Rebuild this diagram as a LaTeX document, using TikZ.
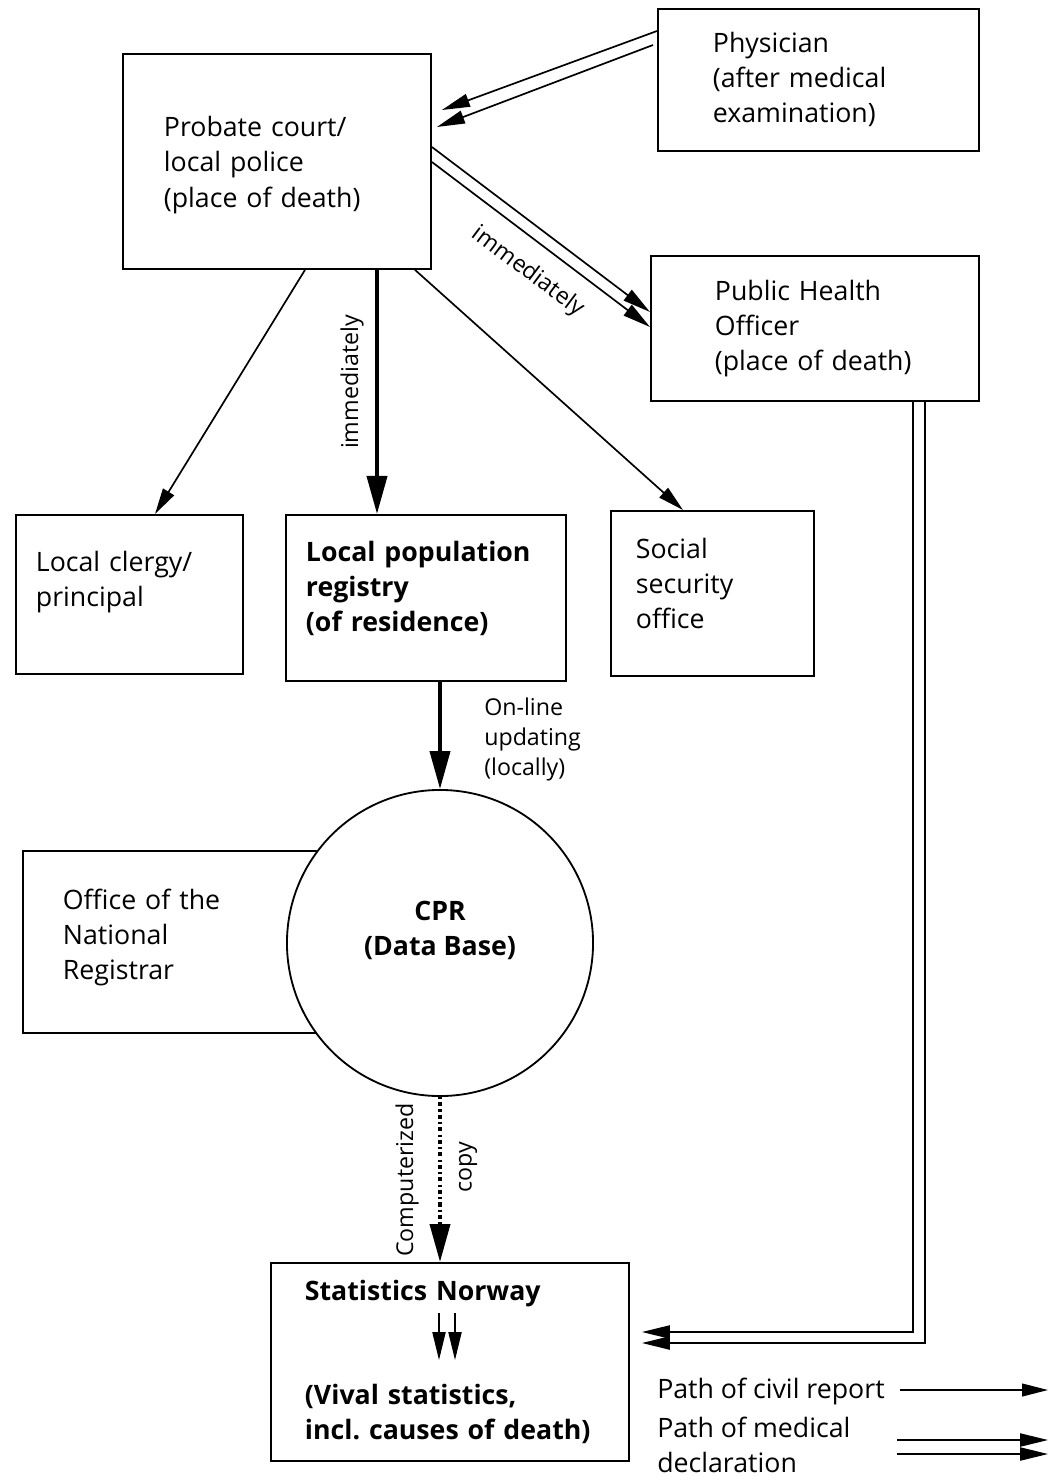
\documentclass[tikz,border=0pt]{standalone}
\usepackage{fontspec}
\setmainfont{Open Sans}
\usetikzlibrary{arrows.meta,calc,positioning}

\begin{document}
\begin{tikzpicture}[x=0.025cm,y=-0.025cm,
  box/.style={rectangle,draw,line width=1.3pt,anchor=north west,align=left,
              inner ysep=0pt,font=\fontsize{19}{24.9}\selectfont},
  lbl/.style={font=\fontsize{16.5}{21.3}\selectfont,inner sep=0pt},
  leg/.style={font=\fontsize{19}{24.9}\selectfont,inner sep=0pt},
  civ/.style={-{Triangle[length=0.65cm,width=0.32cm]},line width=1.2pt},
  civthick/.style={-{Triangle[length=0.95cm,width=0.5cm]},line width=2.8pt},
  med/.style={-{Triangle[length=0.7cm,width=0.33cm]},line width=1.2pt},
  copyln/.style={-{Triangle[length=0.95cm,width=0.5cm]},line width=2.8pt,
                 dash pattern=on 1.5pt off 2.2pt on 3pt off 2.2pt}
]
  \useasboundingbox (0,0) rectangle (1059,1484);
  % boxes
  \node[box,minimum width=7.7cm,minimum height=5.375cm,text width=5.65cm,inner xsep=1.025cm,
        text depth=1.73cm]
    (probate) at (122,53) {Probate court/\\local police\\(place of death)};
  \node[box,minimum width=8.025cm,minimum height=3.55cm,text width=5.275cm,inner xsep=1.375cm]
    (phys) at (657,8) {Physician\\(after medical\\examination)};
  \node[box,minimum width=8.2cm,minimum height=3.625cm,text width=5.0cm,inner xsep=1.6cm]
    (pho) at (650,255) {Public Health\\Officer\\(place of death)};
  \node[box,minimum width=5.675cm,minimum height=3.975cm,text width=4.675cm,inner xsep=0.5cm,
        text depth=1.64cm]
    (clergy) at (15,514) {Local clergy/\\principal};
  \node[box,minimum width=7.0cm,minimum height=4.15cm,text width=6.0cm,inner xsep=0.5cm,
        text depth=2.33cm,font=\fontsize{19}{24.9}\selectfont\bfseries]
    (registry) at (285,514) {Local population\\registry\\(of residence)};
  \node[box,minimum width=5.075cm,minimum height=4.125cm,text width=3.825cm,inner xsep=0.625cm,
        text depth=2.26cm]
    (social) at (610,510) {Social\\security\\office};
  \node[box,minimum width=7.7cm,minimum height=4.55cm,text width=5.7cm,inner xsep=1.0cm,
        text depth=2.12cm]
    (office) at (22,850) {Office of the\\National\\Registrar};
  \node[circle,draw,fill=white,line width=1.3pt,minimum size=7.65cm,align=center,
        text depth=0.75cm,font=\fontsize{19}{24.9}\selectfont\bfseries]
    (cpr) at (440,943) {CPR\\(Data Base)};
  \node[box,minimum width=8.95cm,minimum height=4.95cm,text width=7.25cm,inner xsep=0.85cm,
        font=\fontsize{19}{24.9}\selectfont\bfseries]
    (stats) at (270,1262) {Statistics Norway\\[1.72cm](Vival statistics,\\incl.\ causes of death)};
  % medical declaration
  \draw[med] ($(phys.north west)+(0,23)$) -- ($(probate.north east)+(10,57)$);
  \draw[med] ($(phys.north west)+(-4,37)$) -- ($(probate.north east)+(5,74)$);
  \draw[med] ($(probate.north east)+(0,94)$) -- ($(pho.north west)+(0,57)$);
  \draw[med] ($(probate.north east)+(0,109)$) -- ($(pho.north west)+(0,72)$);
  \draw[med] ($(pho.south west)+(263,0)$) |- ($(stats.north east)+(12,70)$);
  \draw[med] ($(pho.south west)+(275,0)$) |- ($(stats.north east)+(12,81)$);
  % civil report
  \draw[civthick] ($(probate.south west)+(255,0)$) -- ($(registry.north west)+(92,0)$);
  \draw[civ] ($(probate.south west)+(183,0)$) -- ($(clergy.north west)+(140,0)$);
  \draw[civ] ($(probate.south west)+(293,0)$) -- ($(social.north west)+(73,0)$);
  \draw[civthick] ($(registry.south west)+(155,0)$) -- (cpr.north);
  \draw[copyln] (cpr.south) -- ($(stats.north west)+(170,0)$);
  \draw[med,line width=1pt] ($(stats.north west)+(169,51)$) -- ++(0,47);
  \draw[med,line width=1pt] ($(stats.north west)+(185,51)$) -- ++(0,47);
  % labels
  \node[lbl,rotate=90] (imm1) at (352,382) {immediately};
  \node[lbl,rotate=-36.87] (imm2) at (528,272) {immediately};
  \node[lbl,align=left,anchor=north west] (online) at (484,698) {On-line\\updating\\(locally)};
  \node[lbl,rotate=90] (comp) at (407,1180) {Computerized};
  \node[lbl,rotate=90] (copy) at (468,1167) {copy};
  % legend
  \node[leg,anchor=base west] (legciv) at (657,1398) {Path of civil report};
  \node[leg,anchor=north west,align=left] (legmed) at (657,1417) {Path of medical\\declaration};
  \coordinate (civA) at (900,1390);
  \coordinate (civB) at (1048,1390);
  \draw[civ] (civA) -- (civB);
  \coordinate (medA) at (897,1440);
  \coordinate (medB) at (1048,1440);
  \draw[med] (medA) -- (medB);
  \draw[med] ($(medA)+(0,14)$) -- ($(medB)+(0,14)$);
\end{tikzpicture}
\end{document}
